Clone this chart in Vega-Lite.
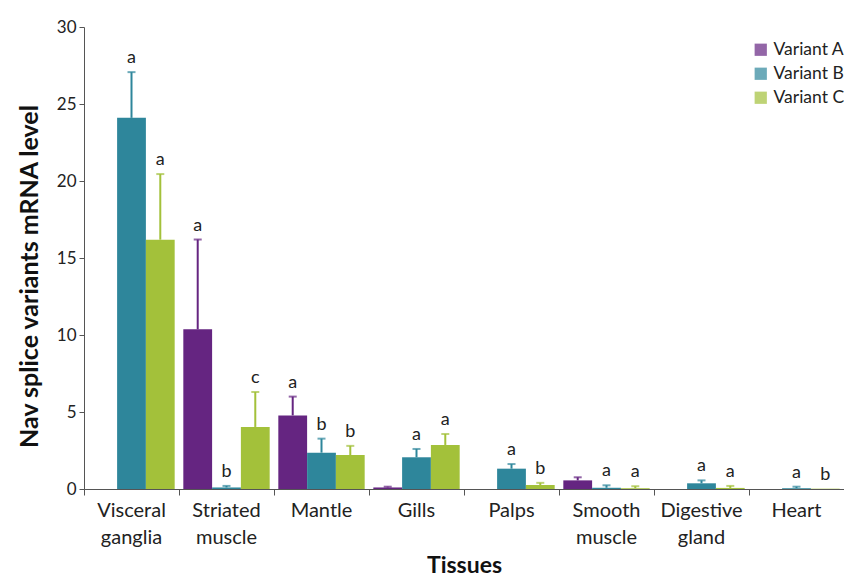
{
  "$schema": "https://vega.github.io/schema/vega-lite/v6.json",
  "autosize": {"type": "none"},
  "padding": {"left": 84, "top": 27, "right": 0, "bottom": 91},
  "width": 760,
  "height": 462,
  "config": {
    "font": "Lato",
    "view": {"stroke": null},
    "axis": {"grid": false, "domainColor": "#555", "tickColor": "#555", "labelColor": "#222", "titleColor": "#111", "labelFont": "Lato", "titleFont": "Lato"}
  },
  "data": {
    "values": [
      {"tissue": "Visceral ganglia", "variant": "Variant A", "value": 0, "err": null, "letter": ""},
      {"tissue": "Visceral ganglia", "variant": "Variant B", "value": 24.1, "err": 27.07, "letter": "a"},
      {"tissue": "Visceral ganglia", "variant": "Variant C", "value": 16.19, "err": 20.45, "letter": "a"},
      {"tissue": "Striated muscle", "variant": "Variant A", "value": 10.37, "err": 16.2, "letter": "a"},
      {"tissue": "Striated muscle", "variant": "Variant B", "value": 0.1, "err": 0.2, "letter": "b"},
      {"tissue": "Striated muscle", "variant": "Variant C", "value": 4.03, "err": 6.3, "letter": "c"},
      {"tissue": "Mantle", "variant": "Variant A", "value": 4.78, "err": 6.0, "letter": "a"},
      {"tissue": "Mantle", "variant": "Variant B", "value": 2.36, "err": 3.27, "letter": "b"},
      {"tissue": "Mantle", "variant": "Variant C", "value": 2.2, "err": 2.8, "letter": "b"},
      {"tissue": "Gills", "variant": "Variant A", "value": 0.1, "err": 0.15, "letter": ""},
      {"tissue": "Gills", "variant": "Variant B", "value": 2.06, "err": 2.6, "letter": "a"},
      {"tissue": "Gills", "variant": "Variant C", "value": 2.86, "err": 3.57, "letter": "a"},
      {"tissue": "Palps", "variant": "Variant A", "value": 0, "err": null, "letter": ""},
      {"tissue": "Palps", "variant": "Variant B", "value": 1.32, "err": 1.62, "letter": "a"},
      {"tissue": "Palps", "variant": "Variant C", "value": 0.26, "err": 0.4, "letter": "b"},
      {"tissue": "Smooth muscle", "variant": "Variant A", "value": 0.56, "err": 0.76, "letter": ""},
      {"tissue": "Smooth muscle", "variant": "Variant B", "value": 0.08, "err": 0.24, "letter": "a"},
      {"tissue": "Smooth muscle", "variant": "Variant C", "value": 0.05, "err": 0.18, "letter": "a"},
      {"tissue": "Digestive gland", "variant": "Variant A", "value": 0, "err": null, "letter": ""},
      {"tissue": "Digestive gland", "variant": "Variant B", "value": 0.37, "err": 0.56, "letter": "a"},
      {"tissue": "Digestive gland", "variant": "Variant C", "value": 0.07, "err": 0.2, "letter": "a"},
      {"tissue": "Heart", "variant": "Variant A", "value": 0, "err": null, "letter": ""},
      {"tissue": "Heart", "variant": "Variant B", "value": 0.05, "err": 0.15, "letter": "a"},
      {"tissue": "Heart", "variant": "Variant C", "value": 0.02, "err": null, "letter": "b"}
    ]
  },
  "encoding": {
    "x": {
      "field": "tissue", "type": "nominal", "sort": null,
      "scale": {"paddingInner": 0, "paddingOuter": 0},
      "axis": {
        "title": "Tissues", "titleFontSize": 23, "titleFontWeight": "bold", "titlePadding": 7,
        "labelAngle": 0, "labelFontSize": 20, "labelLineHeight": 27, "labelPadding": 5,
        "labelExpr": "split(datum.label, ' ')", "bandPosition": 0,
        "tickSize": 6, "labelBaseline": "top"
      }
    },
    "xOffset": {"field": "variant", "type": "nominal", "scale": {"paddingInner": 0, "paddingOuter": 0.15}}
  },
  "layer": [
    {
      "mark": {"type": "bar"},
      "encoding": {
        "y": {
          "field": "value", "type": "quantitative",
          "scale": {"domain": [0, 30], "nice": false},
          "axis": {"title": "Nav splice variants mRNA level", "titleFontSize": 25, "titleFontWeight": "bold", "titlePadding": 14, "titleY": 249, "labelFontSize": 17, "tickCount": 6, "tickSize": 5, "labelPadding": 3}
        },
        "color": {
          "field": "variant", "type": "nominal",
          "scale": {"domain": ["Variant A", "Variant B", "Variant C"], "range": ["#652581", "#2E869B", "#A3C13A"]},
          "legend": {"title": null, "orient": "none", "legendX": 668, "legendY": 14, "labelFontSize": 17.5, "labelColor": "#222", "symbolType": "square", "symbolSize": 150, "symbolStrokeWidth": 0, "rowPadding": 5, "labelOffset": 4}
        }
      }
    },
    {
      "transform": [{"filter": "datum.err != null"}],
      "mark": {"type": "rule", "strokeWidth": 2},
      "encoding": {
        "y": {"field": "value", "type": "quantitative"},
        "y2": {"field": "err"},
        "color": {"field": "variant", "type": "nominal"}
      }
    },
    {
      "transform": [{"filter": "datum.err != null"}],
      "mark": {"type": "tick", "thickness": 2, "size": 8},
      "encoding": {
        "y": {"field": "err", "type": "quantitative"},
        "color": {"field": "variant", "type": "nominal"}
      }
    },
    {
      "transform": [{"filter": "datum.letter != ''"}, {"calculate": "datum.err != null ? datum.err : datum.value", "as": "top"}],
      "mark": {"type": "text", "baseline": "bottom", "dy": -5, "fontSize": 18, "color": "#222"},
      "encoding": {
        "y": {"field": "top", "type": "quantitative"},
        "text": {"field": "letter"}
      }
    }
  ]
}
